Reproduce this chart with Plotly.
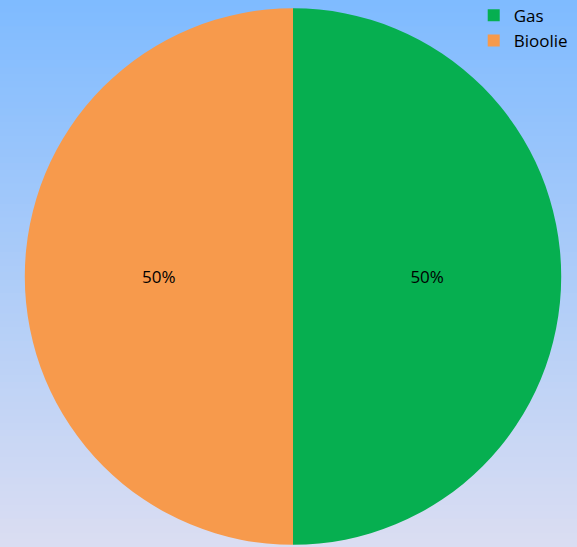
import plotly.graph_objects as go

labels = ["Gas", "Bioolie"]
values = [50, 50]
colors = ["#06AF50", "#F79A4C"]

W, H = 577, 547
top_rgb = (127, 187, 255)
bot_rgb = (218, 221, 242)

shapes = []
n = 80
for i in range(n):
    t = i / (n - 1)
    r = round(top_rgb[0] + (bot_rgb[0] - top_rgb[0]) * t)
    g = round(top_rgb[1] + (bot_rgb[1] - top_rgb[1]) * t)
    b = round(top_rgb[2] + (bot_rgb[2] - top_rgb[2]) * t)
    y1 = 1 - i / n
    y0 = 1 - (i + 1) / n
    shapes.append(dict(type="rect", xref="paper", yref="paper", x0=-0.1, x1=1.1,
                       y0=y0 - 0.002, y1=y1 + 0.002, fillcolor=f"rgb({r},{g},{b})",
                       line=dict(width=0), layer="below"))

cx, half = 293, 269

fig = go.Figure(go.Pie(
    labels=labels, values=values, sort=False, direction="clockwise", rotation=0,
    marker=dict(colors=colors, line=dict(width=0)),
    textinfo="percent", textposition="inside", insidetextorientation="horizontal",
    textfont=dict(family="Open Sans, Liberation Sans, sans-serif", size=17, color="black"),
    domain=dict(x=[(cx - half) / W, (cx + half) / W], y=[0.004, 0.985]),
    hoverinfo="label+percent",
))

fig.update_layout(
    width=W, height=H,
    margin=dict(l=0, r=0, t=0, b=0, autoexpand=False),
    paper_bgcolor="rgb(127,187,255)",
    shapes=shapes,
    showlegend=True,
    legend=dict(x=0.821, y=1.004, xanchor="left", yanchor="top",
                bgcolor="rgba(0,0,0,0)",
                font=dict(family="Open Sans, Liberation Sans, sans-serif", size=17, color="black"),
                itemwidth=30),
)

fig.write_html("out.html")
